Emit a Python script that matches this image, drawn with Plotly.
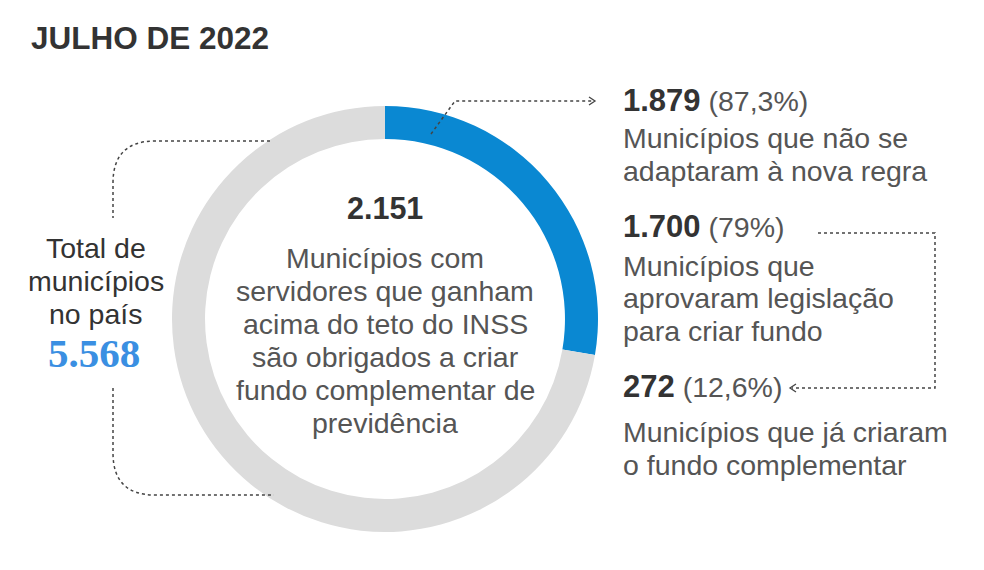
import plotly.graph_objects as go

# ---------------- data ----------------
title_text = "JULHO DE 2022"
total_municipios = 5568
obrigados = 2151
ring_labels = ["Destaque", "Restante"]
ring_share = [27.7, 72.3]          # arc proportion read from the ring
ring_colors = ["#0A88D2", "#DCDCDC"]

right_values = [1879, 1700, 272]
right_pcts = [87.3, 79, 12.6]
right_desc = [
    ["Municípios que não se", "adaptaram à nova regra"],
    ["Municípios que", "aprovaram legislação", "para criar fundo"],
    ["Municípios que já criaram", "o fundo complementar"],
]
center_desc = ["Municípios com", "servidores que ganham", "acima do teto do INSS",
               "são obrigados a criar", "fundo complementar de", "previdência"]
left_desc = ["Total de", "municípios", "no país"]

# ---------------- helpers ----------------
W, H = 984, 570
OFF = 8  # page body margin of the html page
FONT = "Liberation Sans, Arial, sans-serif"
DARK = "#333333"
BODY = "#555555"


def X(px):
    return (px - OFF) / W


def Y(py):
    return 1 - (py - OFF) / H


def fmt_int(n):
    return f"{n:,}".replace(",", ".")


def fmt_pct(p):
    s = f"{p:g}" if float(p).is_integer() else f"{p:.1f}"
    return s.replace(".", ",") + "%"


def path(points, cmds):
    out = []
    for c, pts in zip(cmds, points):
        coords = " ".join(f"{X(x):.5f},{Y(y):.5f}" for x, y in pts)
        out.append(f"{c} {coords}")
    return " ".join(out)


fig = go.Figure()
fig.add_trace(go.Pie(
    labels=ring_labels, values=ring_share, hole=0.845, sort=False,
    direction="clockwise", rotation=0,
    marker=dict(colors=ring_colors, line=dict(width=0)),
    textinfo="none", hoverinfo="skip", showlegend=False,
    domain=dict(x=[X(172), X(598)], y=[Y(532), Y(106)]),
))

ann = []


def add(text, x, y, size=28.5, color=BODY, xanchor="left", family=FONT):
    ann.append(dict(text=text, x=X(x), y=Y(y), xref="paper", yref="paper",
                    xanchor=xanchor, yanchor="middle", showarrow=False,
                    font=dict(size=size, color=color, family=family)))


add(f"<b>{title_text}</b>", 29, 38, size=31.5, color=DARK)

# center block
add(f"<b>{fmt_int(obrigados)}</b>", 385, 208, size=30.5, color=DARK, xanchor="center")
for i, line in enumerate(center_desc):
    add(line, 385, 258 + i * 33, xanchor="center")

# left block
for i, line in enumerate(left_desc):
    add(line, 96, 248 + i * 33, xanchor="center", color=DARK)
add(f"<b>{fmt_int(total_municipios)}</b>", 94, 353, size=41, color="#3A8FE2",
    xanchor="center", family="Liberation Serif, Times New Roman, serif")

# right blocks
head_y = [100, 226, 386]
desc_y = [[138, 171], [266, 298, 331], [432, 465]]
for v, p, hy, lines, ly in zip(right_values, right_pcts, head_y, right_desc, desc_y):
    add(f"<b><span style='font-size:31px;color:{DARK}'>{fmt_int(v)}</span></b> "
        f"<span style='color:{BODY}'>({fmt_pct(p)})</span>", 621, hy, size=28.5)
    for line, yy in zip(lines, ly):
        add(line, 621, yy)

line_style = dict(color="#444444", width=1.5, dash="dot")
shapes = [
    # left bracket, top
    dict(type="path", xref="paper", yref="paper", line=line_style,
         path=path([[(270, 141)], [(155, 141)], [(113, 141), (113, 183)], [(113, 218)]],
                   ["M", "L", "Q", "L"])),
    # left bracket, bottom
    dict(type="path", xref="paper", yref="paper", line=line_style,
         path=path([[(113, 388)], [(113, 453)], [(113, 495), (155, 495)], [(274, 495)]],
                   ["M", "L", "Q", "L"])),
    # top-right pointer
    dict(type="path", xref="paper", yref="paper", line=line_style,
         path=path([[(431, 134)], [(455, 101)], [(594, 101)]], ["M", "L", "L"])),
    dict(type="path", xref="paper", yref="paper",
         line=dict(color="#444444", width=1.3),
         path=path([[(589, 97)], [(595, 101)], [(589, 105)]], ["M", "L", "L"])),
    # right bracket
    dict(type="path", xref="paper", yref="paper", line=line_style,
         path=path([[(818, 233)], [(935, 233)], [(935, 388)], [(792, 388)]],
                   ["M", "L", "L", "L"])),
    dict(type="path", xref="paper", yref="paper",
         line=dict(color="#444444", width=1.3),
         path=path([[(796, 384)], [(790, 388)], [(796, 392)]], ["M", "L", "L"])),
]

fig.update_layout(
    width=W, height=H, margin=dict(l=0, r=0, t=0, b=0),
    paper_bgcolor="white", plot_bgcolor="white",
    annotations=ann, shapes=shapes, showlegend=False,
)
fig.write_html("out.html")
